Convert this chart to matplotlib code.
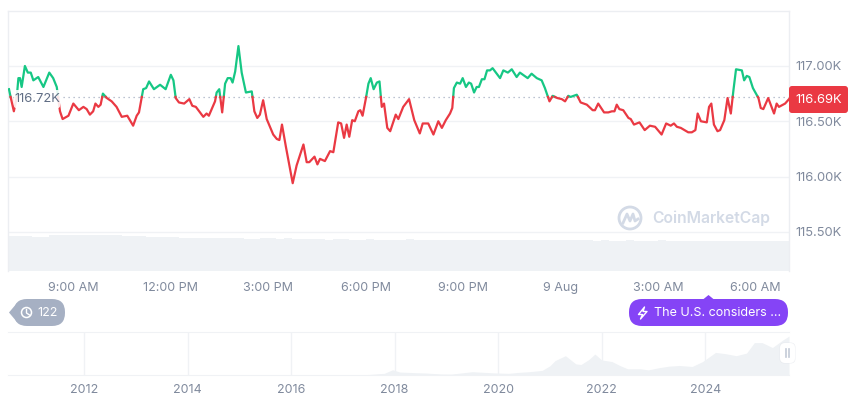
import numpy as np
import matplotlib
matplotlib.use('Agg')
import matplotlib.pyplot as plt
from matplotlib.patches import FancyBboxPatch, Polygon, Circle

plt.rcParams['font.family'] = ['Inter', 'DejaVu Sans']

# price line, hours since midnight 8 Aug (24 = 9 Aug 00:00), price in thousands USD
hours = [7.03, 7.08, 7.18, 7.27, 7.32, 7.37, 7.42, 7.52, 7.61, 7.70, 7.78, 7.93, 8.09, 8.27, 8.39, 8.50,
         8.60, 8.68, 8.86, 9.01, 9.18, 9.32, 9.42, 9.52, 9.62, 9.69, 9.78, 9.85, 9.92, 10.04, 10.19, 10.34,
         10.50, 10.67, 10.85, 10.96, 11.03, 11.16, 11.25, 11.34, 11.49, 11.68, 11.85, 12.01, 12.09, 12.16,
         12.26, 12.42, 12.58, 12.67, 12.78, 13.01, 13.11, 13.18, 13.37, 13.42, 13.50, 13.59, 13.68, 13.76,
         13.85, 13.91, 13.99, 14.09, 14.19, 14.32, 14.50, 14.58, 14.67, 14.75, 14.85, 14.96, 15.16, 15.27,
         15.35, 15.43, 15.55, 15.76, 15.88, 16.09, 16.19, 16.27, 16.43, 16.52, 16.60, 16.75, 16.91, 17.01,
         17.16, 17.25, 17.34, 17.42, 17.50, 17.59, 17.67, 17.78, 17.84, 17.91, 18.02, 18.09, 18.16, 18.25,
         18.35, 18.43, 18.50, 18.57, 18.67, 18.76, 18.93, 19.01, 19.16, 19.34, 19.50, 19.67, 19.76, 19.93,
         20.09, 20.24, 20.35, 20.47, 20.60, 20.67, 20.72, 20.81, 20.91, 20.99, 21.09, 21.18, 21.25, 21.34,
         21.42, 21.49, 21.58, 21.66, 21.74, 21.83, 21.91, 22.14, 22.24, 22.38, 22.50, 22.65, 22.75, 22.99,
         23.11, 23.27, 23.42, 23.52, 23.66, 23.76, 23.90, 24.04, 24.14, 24.24, 24.31, 24.50, 24.62, 24.81,
         24.99, 25.06, 25.16, 25.34, 25.47, 25.58, 25.66, 25.73, 25.81, 25.93, 26.09, 26.16, 26.26, 26.43,
         26.59, 26.75, 26.91, 27.11, 27.25, 27.39, 27.49, 27.58, 27.70, 27.93, 28.04, 28.15, 28.22, 28.32,
         28.50, 28.57, 28.64, 28.72, 28.83, 28.91, 29.04, 29.14, 29.24, 29.32, 29.40, 29.58, 29.65, 29.73,
         29.81, 29.92, 30.09, 30.16, 30.24, 30.39, 30.57, 30.65, 30.72, 30.91, 31.03]
prices = [116.79, 116.72, 116.59, 116.72, 116.89, 116.89, 116.81, 117.00, 116.94, 116.94, 116.87, 116.90, 116.81, 116.94, 116.89, 116.81,
          116.59, 116.52, 116.55, 116.66, 116.60, 116.63, 116.61, 116.56, 116.59, 116.66, 116.63, 116.65, 116.75, 116.71, 116.68, 116.63,
          116.54, 116.55, 116.46, 116.55, 116.58, 116.79, 116.80, 116.86, 116.79, 116.83, 116.79, 116.92, 116.87, 116.71,
          116.67, 116.66, 116.70, 116.64, 116.63, 116.54, 116.57, 116.55, 116.68, 116.76, 116.79, 116.58, 116.84, 116.89,
          116.89, 116.85, 116.95, 117.18, 116.94, 116.76, 116.77, 116.59, 116.53, 116.56, 116.69, 116.52, 116.38, 116.34,
          116.33, 116.47, 116.27, 115.94, 116.10, 116.29, 116.13, 116.13, 116.18, 116.11, 116.16, 116.14, 116.23, 116.22,
          116.49, 116.48, 116.35, 116.47, 116.36, 116.51, 116.50, 116.59, 116.60, 116.55, 116.72, 116.84, 116.89, 116.79,
          116.85, 116.86, 116.63, 116.66, 116.44, 116.41, 116.56, 116.52, 116.63, 116.70, 116.51, 116.39, 116.48, 116.48,
          116.38, 116.50, 116.44, 116.51, 116.57, 116.62, 116.80, 116.85, 116.84, 116.89, 116.81, 116.85, 116.84, 116.76,
          116.81, 116.81, 116.88, 116.88, 116.96, 116.96, 116.98, 116.89, 116.96, 116.94, 116.97, 116.90, 116.94, 116.89,
          116.93, 116.89, 116.87, 116.80, 116.68, 116.73, 116.71, 116.70, 116.68, 116.73, 116.72, 116.74, 116.67, 116.65,
          116.60, 116.60, 116.66, 116.58, 116.58, 116.59, 116.59, 116.65, 116.61, 116.60, 116.53, 116.52, 116.47, 116.49,
          116.42, 116.46, 116.45, 116.38, 116.48, 116.46, 116.48, 116.45, 116.44, 116.40, 116.40, 116.42, 116.57, 116.50,
          116.49, 116.63, 116.66, 116.47, 116.41, 116.42, 116.51, 116.71, 116.57, 116.78, 116.97, 116.96, 116.87, 116.91,
          116.90, 116.80, 116.71, 116.62, 116.61, 116.71, 116.57, 116.66, 116.63, 116.66, 116.70]
base_price = 116.72

# volume, one bar per 15 minutes from 7:00, rough relative heights
volume = [35, 35.5, 35, 34.5, 34.5, 36.3, 36.3, 36.4, 36.3, 36.3, 36.2, 36.3, 36.3, 36.2, 35.4, 35.3, 35.2,
          33.8, 33.7, 33.6, 33.7, 33.5, 32.8, 32.7, 32.6, 32.7, 32.8, 32.6, 32.7, 32.5, 31.8, 32.6, 32.6,
          32.5, 32.7, 32.5, 32.4, 31.8, 31.6, 31.5, 31.7, 31.6, 31.4, 31.5, 31.6, 31.4, 31.5, 31.3, 31.5,
          31.6, 31.4, 31.4, 31.5, 31.3, 31.4, 31.5, 31.3, 31.4, 31.2, 31.3, 31.4, 31.2, 31.3, 31.2, 31.3,
          31.1, 31.2, 31.0, 31.1, 30.8, 30.6, 30.7, 30.5, 30.6, 30.5, 30.4, 30.6, 30.5, 30.4, 30.5, 30.6,
          30.4, 30.5, 30.3, 30.5, 30.4, 30.5, 30.3, 30.4, 30.5, 30.3, 30.4, 30.5, 30.4, 30.5, 30.4]
last_volume = 30

price_ticks = [115.5, 116.0, 116.5, 117.0]
price_labels = ['115.50K', '116.00K', '116.50K', '117.00K']
time_ticks = [9, 12, 15, 18, 21, 24, 27, 30]
time_labels = ['9:00 AM', '12:00 PM', '3:00 PM', '6:00 PM', '9:00 PM', '9 Aug', '3:00 AM', '6:00 AM']

# all-time overview, price in thousands USD
nav_years = [2010.53, 2013.0, 2013.9, 2015.0, 2016.5, 2017.0, 2017.5, 2017.8, 2017.96, 2018.1, 2018.4, 2018.6,
             2018.9, 2019.1, 2019.5, 2019.9, 2020.2, 2020.4, 2020.6, 2020.85, 2021.0, 2021.1, 2021.3, 2021.5,
             2021.6, 2021.75, 2021.87, 2022.0, 2022.2, 2022.35, 2022.5, 2022.75, 2022.9, 2023.1, 2023.3, 2023.5,
             2023.75, 2023.95, 2024.2, 2024.4, 2024.6, 2024.8, 2024.95, 2025.1, 2025.3, 2025.5, 2025.62]
nav_prices = [0, 0.1, 1, 0.3, 0.6, 1, 2.5, 6, 17, 10, 8, 7,
              4, 3.7, 11, 7.5, 6, 9, 11, 15, 29, 45, 60, 35,
              33, 48, 65, 47, 42, 30, 20, 20, 16.5, 23, 28, 30,
              27, 42, 70, 66, 60, 68, 100, 100, 85, 108, 120]
nav_ticks = [2012, 2014, 2016, 2018, 2020, 2022, 2024]

W, H = 860, 401
GRID = '#f0f2f5'
TEXT = '#808a9d'
GREEN = '#16c784'
RED = '#ea3943'
VOL = '#eff2f5'


def px_axes(x0, y0, x1, y1):
    return fig.add_axes([x0 / W, 1 - y1 / H, (x1 - x0) / W, (y1 - y0) / H])


fig = plt.figure(figsize=(W / 100, H / 100), dpi=100)

# volume goes behind the price panel
ax_vol = px_axes(8, 232, 789, 271)
ax_vol.bar(7 + 0.25 * np.arange(len(volume)), volume, width=0.25, align='edge', color=VOL, linewidth=0)
ax_vol.bar(30.97, last_volume, width=0.06, align='edge', color=VOL, linewidth=0)
ax_vol.set_xlim(7.0, 31.03)
ax_vol.set_ylim(0, 39)
ax_vol.axis('off')

ax = px_axes(8, 11, 789, 271)
ax.patch.set_alpha(0)
ax.set_xlim(7.0, 31.03)
ax.set_ylim(115.146, 117.497)

# add the crossing points so colours switch exactly on the base line
xs, ys = [hours[0]], [prices[0]]
for i in range(1, len(hours)):
    p0, p1 = prices[i - 1], prices[i]
    if (p0 - base_price) * (p1 - base_price) < 0:
        t = (base_price - p0) / (p1 - p0)
        xs.append(hours[i - 1] + t * (hours[i] - hours[i - 1]))
        ys.append(base_price)
    xs.append(hours[i])
    ys.append(p1)
xs = np.array(xs)
ys = np.array(ys)


def gradient_fill(color, top, bottom, a_top, a_bottom, where):
    rgba = np.zeros((200, 1, 4))
    rgba[..., :3] = matplotlib.colors.to_rgb(color)
    rgba[..., 3] = np.linspace(a_top, a_bottom, 200)[:, None]
    im = ax.imshow(rgba, extent=[7.0, 31.03, bottom, top], aspect='auto', zorder=1)
    poly = ax.fill_between(xs, ys, base_price, where=where, interpolate=False, color='none')
    im.set_clip_path(poly.get_paths()[0], transform=ax.transData)


gradient_fill(GREEN, 117.2, base_price, 0.30, 0.16, ys >= base_price)
gradient_fill(RED, base_price, 115.9, 0.07, 0.30, ys <= base_price)

ax.plot(xs, np.ma.masked_where(ys < base_price, ys), color=GREEN, lw=1.6, zorder=3, solid_joinstyle='round')
ax.plot(xs, np.ma.masked_where(ys > base_price, ys), color=RED, lw=1.6, zorder=3, solid_joinstyle='round')
ax.axhline(base_price, color='#a6b0c3', lw=0.9, ls=(0, (1, 3)), zorder=2)

ax.set_yticks(price_ticks, price_labels)
ax.set_xticks(time_ticks, time_labels)
ax.yaxis.tick_right()
ax.grid(axis='y', color=GRID, lw=1)
ax.set_axisbelow(True)
ax.tick_params(axis='y', length=0, pad=4.5, labelsize=9.3, labelcolor=TEXT)
ax.tick_params(axis='x', length=0, pad=8, labelsize=9, labelcolor=TEXT)
for side, spine in ax.spines.items():
    spine.set_visible(side != 'bottom')
    spine.set_color('#eceef2')
    spine.set_linewidth(1)

# overview panel
ax_nav = px_axes(8, 331.5, 789, 375.3)
ax_nav.fill_between(nav_years, nav_prices, 0, color=VOL, linewidth=0)
ax_nav.set_xlim(2010.53, 2025.62)
ax_nav.set_ylim(0, 134)
ax_nav.set_yticks([])
ax_nav.set_xticks(nav_ticks, [str(y) for y in nav_ticks])
ax_nav.grid(axis='x', color=GRID, lw=1)
ax_nav.set_axisbelow(True)
ax_nav.tick_params(axis='x', length=0, pad=6.5, labelsize=9, labelcolor=TEXT)
for side, spine in ax_nav.spines.items():
    spine.set_visible(side in ('top', 'bottom'))
    spine.set_color(GRID)

# page furniture on a pixel overlay
ov = fig.add_axes([0, 0, 1, 1], zorder=10)
ov.set_xlim(0, W)
ov.set_ylim(H, 0)
ov.axis('off')


def pill(x0, y0, x1, y1, r, color, **kw):
    ov.add_patch(FancyBboxPatch((x0 + r, y0 + r), x1 - x0 - 2 * r, y1 - y0 - 2 * r,
                                boxstyle=f'round,pad={r},rounding_size={r}',
                                fc=color, ec='none', **kw))


# start price label
pill(14, 90, 60, 108, 2, 'white', alpha=0.88)
ov.text(37, 99.5, '116.72K', color='#616e85', fontsize=9.3, ha='center', va='center')

# current price label
pill(789, 86, 848, 113, 3, RED)
ov.text(818.5, 100, '116.69K', color='white', fontsize=9.3, ha='center', va='center')

# watermark
ov.add_patch(Circle((630, 218), 11, fc='none', ec='#d3dae6', lw=2))
ov.plot([623, 627, 630, 633, 635, 638], [223, 214, 221, 214, 221, 219], color='#d3dae6', lw=2,
        solid_joinstyle='round')
ov.text(652, 218.5, 'CoinMarketCap', color='#d3dae6', fontsize=11.3, fontweight='semibold', ha='left', va='center')

# comments badge
pill(14, 299, 65, 326, 13, '#a6b0c3')
ov.add_patch(Polygon([[9, 312.5], [17, 303], [17, 322]], fc='#a6b0c3', ec='none'))
ov.add_patch(Circle((26.5, 312.5), 5, fc='none', ec='white', lw=1.1))
ov.plot([26.5, 26.5, 29.5], [309.5, 313, 315], color='white', lw=1)
ov.text(37.5, 313, '122', color='white', fontsize=9, ha='left', va='center')

# news badge
pill(629, 299, 788, 326, 13, '#8544f6')
ov.add_patch(Polygon([[703, 299.5], [708.5, 295], [714, 299.5]], fc='#8544f6', ec='none'))
ov.add_patch(Polygon([[644.5, 307], [638.5, 314.5], [642.5, 314.5], [640.5, 319], [647, 311.5], [643, 311.5]],
                     fc='none', ec='white', lw=1, joinstyle='round'))
ov.text(654, 313, 'The U.S. considers ...', color='white', fontsize=9, ha='left', va='center')

# overview handle
pill(780, 343, 795, 363, 5, 'white', zorder=4)
pill(779.5, 342.5, 795.5, 363.5, 5, '#e3e6ec', alpha=0.6, zorder=3)
ov.plot([785.5, 785.5], [349, 357], color='#c4cbd7', lw=1.2, zorder=5)
ov.plot([789, 789], [349, 357], color='#c4cbd7', lw=1.2, zorder=5)

fig.savefig('out.png', dpi=100)
